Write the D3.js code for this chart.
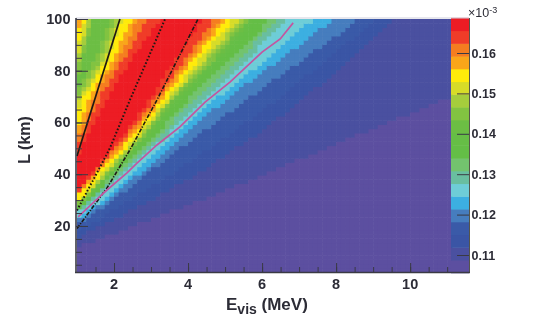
<!DOCTYPE html>
<html>
<head>
<meta charset="utf-8">
<script src="https://cdn.jsdelivr.net/npm/d3@7"></script>
<style>
html,body{margin:0;padding:0;background:#fff}
svg{display:block;filter:blur(0.55px)}
text{font-family:"Liberation Sans",Arial,sans-serif;fill:#2c2c36}
</style>
</head>
<body>
<svg id="chart" width="545" height="327"></svg>
<script>
// ---- Colour palette of the z axis, lowest band first
const palette = ["#5c4fa0","#4a50a0","#3a55a5","#3a5aa8","#467dbe","#3cafe1","#6ecdd7","#69bea0","#73c36e","#64be46",
                 "#66be46","#6cbe44","#82c341","#a5cd3c","#d7dc28","#ffeb0a","#faa519","#f57d20","#f03c28","#ed1c24"];
const zRange = [0.1056, 0.1687];
const zTicks = [0.11, 0.12, 0.13, 0.14, 0.15, 0.16];

// ---- Band boundaries: E (MeV) at which each band ends, at these L rows (km)
const lRows = [100, 85, 70, 55, 40, 30, 20, 10];
const edge1  = [16.22,13.65,11.11,8.51,6.05,4.32,2.49,0.65];
const edge2  = [9.54,8.38,7.19,5.81,4.22,3.00,1.62,0.27];
const edge3  = [9.08,7.78,6.49,5.05,3.54,2.41,1.27,0];
const edge4  = [8.62,7.16,5.68,4.24,2.86,1.97,0.95,0];
const edge5  = [7.92,6.54,5.11,3.84,2.65,1.78,0.81,-0.14];
const edge6  = [7.38,6.16,4.81,3.62,2.49,1.65,0.70,-0.27];
const edge7  = [6.70,5.62,4.46,3.43,2.22,1.41,0.54];
const edge8  = [6.41,5.41,4.22,3.24,2.11,1.35,0.49];
const edge9  = [6.22,5.22,4.05,3.11,2.00,1.30,0.43];
const edge10 = [5.81,4.92,3.84,2.97,1.89,1.24,0.38];
const edge11 = [5.70,4.81,3.73,2.89,1.84,1.22,0.35];
const edge12 = [5.62,4.73,3.65,2.84,1.81,1.19,0.32];
const edge13 = [5.54,4.59,3.59,2.76,1.76,1.14,0.27];
const edge14 = [5.41,4.49,3.54,2.70,1.70,1.11,0.27];
const edge15 = [5.22,4.32,3.46,2.62,1.65,1.05,0.22];
const edge16 = [5.05,4.16,3.35,2.51,1.51,0.92,0.14];
const edge17 = [4.92,4.05,3.27,2.41,1.46,0.89];
const edge18 = [4.73,3.92,3.16,2.32,1.41,0.84];
const edge19 = [4.41,3.68,3.00,2.22,1.35,0.78];
const rightEdges = [edge1,edge2,edge3,edge4,edge5,edge6,edge7,edge8,edge9,edge10,edge11,edge12,edge13,edge14,edge15,edge16,edge17,edge18,edge19];

// Left side of the hot ridge, bands 12..19, same L rows (first five)
const left12 = [1.89,1.49,0.95,0.27,0.27];
const left13 = [2.03,1.65,1.03,0.54,0.27];
const left14 = [2.14,1.76,1.11,0.59,0.27];
const left15 = [2.24,1.84,1.19,0.68,0.41];
const left16 = [2.49,1.97,1.35,0.97,0.54];
const left17 = [2.65,2.11,1.46,1.05,0.54];
const left18 = [2.89,2.27,1.62,1.14,0.68];
const left19 = [3.24,2.49,1.84,1.27,0.86];
const leftEdges = [left12,left13,left14,left15,left16,left17,left18,left19];

// Small hot wedge in the top-left corner: band, E where it meets L=100, L where it meets E=1
const cornerBands = [12, 13, 14, 15, 16];
const cornerE = [1.42, 1.36, 1.30, 1.24, 1.16];
const cornerL = [75.3, 80, 84.5, 89.5, 95];

// ---- Overlaid curves
const solidE = [1, 2.16];
const solidL = [47, 100];
const dottedE = [1.0, 1.68, 1.89, 2.43, 3.38];
const dottedL = [26, 44.3, 50.1, 68.7, 100];
const dashE = [1.0, 1.81, 2.43, 3.16, 4.27];
const dashL = [19, 34.7, 49.4, 68.7, 100];
const pinkE = [1.03,1.57,1.81,2.35,2.62,3.16,3.78,4.46,5.14,6.00,6.49,6.84];
const pinkL = [23.5,30.8,33.9,40.5,44.3,51.3,58.3,67.9,75.7,87.2,92.3,98.5];

const xTickMajor = [2,4,6,8,10];
const yTickMajor = [20,40,60,80,100];
const xTitle = "E", xSub = "vis", xUnit = " (MeV)", yTitle = "L (km)";

// ---- Scales
const x = d3.scaleLinear().domain([1, 11.59]).range([77, 469]);
const y = d3.scaleLinear().domain([2.2, 100]).range([272, 19]);
const yz = d3.scaleLinear().domain([0.11, 0.16]).range([255, 53]);
const svg = d3.select("#chart");

// ---- Regions (value >= band k)
const regions = [];
rightEdges.forEach((edge, i) => {
  const band = i + 1;
  const pts = edge.map((e, j) => [e, lRows[j]]);
  if (band >= 12) {
    const lf = leftEdges[band - 12].map((e, j) => [e, lRows[j]]).reverse();
    regions.push({band, poly: pts.concat(lf)});
  } else {
    regions.push({band, poly: pts.concat([[-5, lRows[edge.length - 1]], [-5, 100]])});
  }
});
cornerBands.forEach((b, i) => {
  regions.push({band: b, poly: [[cornerE[i], 100], [1, cornerL[i]], [0, cornerL[i]], [0, 100]]});
});

function bandAt(e, l) {
  let b = 0;
  for (const r of regions) if (r.band > b && d3.polygonContains(r.poly, [e, l])) b = r.band;
  return b;
}

// ---- Heat map cells
const dE = 0.125, nRows = 60, dL = (100 - 2.2) / nRows;
const cells = [];
d3.range(0, 81).forEach(i => d3.range(0, nRows).forEach(j => {
  const e0 = 1 + i * dE, l0 = 2.2 + j * dL;
  cells.push({e0, l0, band: bandAt(e0 + dE / 2, l0 + dL / 2)});
}));
svg.append("g").attr("class", "cells").selectAll("rect").data(cells).join("rect")
  .attr("x", d => x(d.e0))
  .attr("y", d => y(d.l0 + dL))
  .attr("width", d => x(d.e0 + dE) - x(d.e0) + 0.6)
  .attr("height", d => y(d.l0) - y(d.l0 + dL) + 0.6)
  .attr("fill", d => palette[d.band]);

// ---- Colour bar
const zStep = (zRange[1] - zRange[0]) / palette.length;
svg.append("g").selectAll("rect").data(palette).join("rect")
  .attr("x", 451).attr("width", 18)
  .attr("y", (d, i) => yz(zRange[0] + (i + 1) * zStep))
  .attr("height", (d, i) => yz(zRange[0] + i * zStep) - yz(zRange[0] + (i + 1) * zStep) + 0.5)
  .attr("fill", d => d);

// ---- Curves
const line = d3.line().x(d => x(d[0])).y(d => y(d[1]));
const curve = (es, ls) => line(es.map((e, i) => [e, ls[i]]));
svg.append("path").attr("d", curve(solidE, solidL)).attr("fill", "none").attr("stroke", "#1e1a14").attr("stroke-width", 1.7);
svg.append("path").attr("d", curve(dottedE, dottedL)).attr("fill", "none").attr("stroke", "#1e1a14").attr("stroke-width", 2).attr("stroke-dasharray", "1.6,2");
svg.append("path").attr("d", curve(dashE, dashL)).attr("fill", "none").attr("stroke", "#1e1a14").attr("stroke-width", 1.6).attr("stroke-dasharray", "4,1.5,1.2,1.5");
svg.append("path").attr("d", curve(pinkE, pinkL)).attr("fill", "none").attr("stroke", "#c4559f").attr("stroke-width", 1.7);

// ---- Frame
const axisColor = "#3a3a44";
svg.append("line").attr("x1", 76).attr("x2", 469).attr("y1", 18).attr("y2", 18).attr("stroke", "#cfcfdc").attr("stroke-width", 1);
svg.append("line").attr("x1", 469.5).attr("x2", 469.5).attr("y1", 18).attr("y2", 273).attr("stroke", "#55554a").attr("stroke-width", 1);
svg.append("line").attr("x1", 76).attr("x2", 76).attr("y1", 18).attr("y2", 273).attr("stroke", axisColor).attr("stroke-width", 1.6);
svg.append("line").attr("x1", 75).attr("x2", 470).attr("y1", 272.5).attr("y2", 272.5).attr("stroke", axisColor).attr("stroke-width", 1.6);

// ---- Axes via d3.axis, ticks pointing inward
const gx = svg.append("g").attr("transform", "translate(0,272)");
gx.call(d3.axisTop(x).tickValues(d3.range(1.5, 11.01, 0.5)).tickSize(5).tickFormat(""));
gx.append("g").call(d3.axisTop(x).tickValues(xTickMajor).tickSize(9).tickFormat(""));
const gy = svg.append("g").attr("transform", "translate(76,0)");
gy.call(d3.axisRight(y).tickValues(d3.range(5, 100.1, 5)).tickSize(6).tickFormat(""));
gy.append("g").call(d3.axisRight(y).tickValues(yTickMajor).tickSize(12).tickFormat(""));
svg.selectAll(".domain").remove();
gx.selectAll("line").attr("stroke", axisColor).attr("stroke-width", 1);
gy.selectAll("line").attr("stroke", axisColor).attr("stroke-width", 1);

// Tick labels
svg.append("g").selectAll("text").data(xTickMajor).join("text")
  .attr("x", d => x(d)).attr("y", 288.5).attr("text-anchor", "middle")
  .attr("font-size", 14.5).attr("font-weight", "bold").text(d => d);
svg.append("g").selectAll("text").data(yTickMajor).join("text")
  .attr("x", 70.5).attr("y", d => y(d) + 5).attr("text-anchor", "end")
  .attr("font-size", 14.5).attr("font-weight", "bold").text(d => d);

// Colour-bar axis
const gz = svg.append("g").attr("transform", "translate(469,0)");
gz.call(d3.axisLeft(yz).tickValues(zTicks).tickSize(12).tickFormat(""));
gz.select(".domain").remove();
gz.selectAll("line").attr("stroke", axisColor).attr("stroke-width", 1);
svg.append("g").selectAll("text").data(zTicks).join("text")
  .attr("x", 471.5).attr("y", d => yz(d) + 4.5)
  .attr("font-size", 12.5).attr("font-weight", "bold").text(d => d3.format(".2f")(d));
const mult = svg.append("text").attr("x", 468).attr("y", 17).attr("font-size", 12.5);
mult.append("tspan").text("×10");
mult.append("tspan").attr("dy", -4).attr("font-size", 9).text("-3");

// Axis titles
const xt = svg.append("text").attr("x", 226).attr("y", 310).attr("font-size", 17).attr("font-weight", "bold");
xt.append("tspan").text(xTitle);
xt.append("tspan").attr("dy", 3.5).attr("font-size", 14).text(xSub);
xt.append("tspan").attr("dy", -3.5).text(xUnit);
svg.append("text").attr("transform", "translate(30,140) rotate(-90)").attr("text-anchor", "middle")
  .attr("font-size", 16).attr("font-weight", "bold").text(yTitle);
</script>
</body>
</html>
